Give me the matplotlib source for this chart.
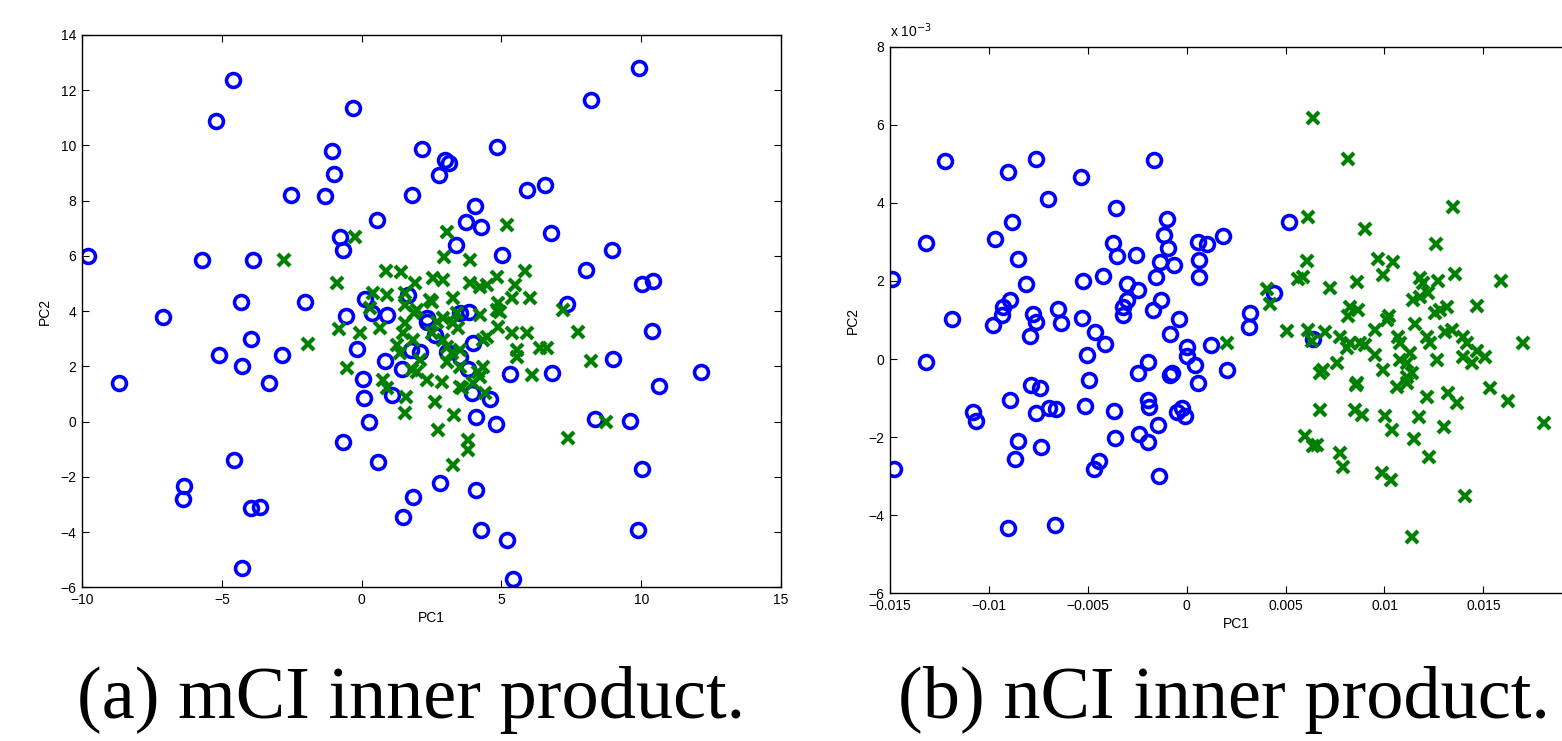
import numpy as np
import matplotlib
matplotlib.use("Agg")
import matplotlib.pyplot as plt
from matplotlib.ticker import FixedLocator, FuncFormatter

# ---------------- data: (a) mCI inner product ----------------
a_blue_x = [-9.8, -4.59, -5.2, -0.31, -1.05, -1.0, -2.54, -1.31, 0.55, -0.76, -0.67, -5.7, -3.87,
            -4.32, -2.04, -7.1, 1.8, 2.15, 0.12, -0.57, 0.36, 0.9, 1.67, 9.92, 8.19, 4.83, 2.99,
            3.14, 2.78, 5.9, 6.57, 4.07, 3.73, 4.28, 6.77, 3.37, 5.02, 8.94, 8.01, 10.03, 10.41,
            7.36, 3.52, 3.85, 2.33, -3.96, -5.09, -2.84, -4.29, -8.67, -3.32, -0.16, 0.84, 0.05,
            0.09, 1.1, 0.25, -0.68, 0.59, -4.56, -6.36, -6.4, -3.97, -3.62, -4.27, 1.83, 1.49,
            1.45, 1.77, 10.39, 9.0, 12.14, 10.65, 6.82, 5.31, 8.36, 9.61, 10.03, 9.9, 2.79, 4.09,
            4.26, 5.21, 5.42, 4.09, 4.8, 4.59, 3.96, 3.97, 3.82, 3.04, 2.09, 2.33, 2.63, 3.52]
a_blue_y = [6.0, 12.37, 10.9, 11.35, 9.79, 8.95, 8.21, 8.17, 7.29, 6.68, 6.22, 5.87, 5.87,
            4.32, 4.33, 3.8, 8.21, 9.87, 4.43, 3.84, 3.92, 3.87, 4.58, 12.82, 11.66, 9.95, 9.48,
            9.38, 8.93, 8.4, 8.56, 7.79, 7.23, 7.06, 6.82, 6.39, 6.04, 6.22, 5.49, 5.0, 5.08,
            4.27, 3.92, 3.97, 3.76, 2.99, 2.42, 2.42, 2.01, 1.39, 1.41, 2.62, 2.21, 1.53,
            0.86, 0.97, 0.0, -0.73, -1.48, -1.38, -2.33, -2.82, -3.14, -3.08, -5.3, -2.72, -3.45,
            1.9, 2.59, 3.28, 2.27, 1.8, 1.28, 1.75, 1.72, 0.1, 0.01, -1.73, -3.93, -2.23, -2.49,
            -3.93, -4.28, -5.69, 0.17, -0.1, 0.81, 1.05, 2.86, 1.89, 2.53, 2.53, 3.62, 3.14, 2.35]

a_green_x = [-2.76, -0.87, -0.23, 0.87, 1.41, 1.91, 0.42, 0.9, 1.55, 0.3, 1.55, 1.88,
             -1.91, -0.8, -0.06, -0.53, 0.66, 1.55, 1.26, 0.78, 0.9, 1.59, 1.55, 1.79,
             3.04, 2.96, 3.88, 5.19, 2.56, 2.92, 4.83, 5.84, 3.88, 4.23, 4.47, 5.48, 2.45, 3.28,
             4.89, 5.37, 6.02, 7.21, 4.95, 7.75, 8.19, 6.08, 8.73, 7.37, 6.38, 6.62, 5.9, 5.55,
             5.37, 5.55, 4.89, 4.35, 4.35, 4.23, 4.41, 3.82, 3.82, 3.26, 2.72, 3.3, 2.63, 3.58,
             2.86, 2.33, 1.37, 3.52, 3.04, 3.22, 2.92, 2.51, 1.85, 1.49, 2.69, 3.28, 2.92, 3.4,
             4.23, 4.83, 1.97, 4.17, 2.51, 2.09, 1.97, 4.47, 3.04, 3.52, 3.52, 4.0, 3.45]
a_green_y = [5.86, 5.03, 6.7, 5.47, 5.43, 5.01, 4.65, 4.59, 4.65, 4.1, 4.22, 3.92,
             2.8, 3.34, 3.2, 1.95, 3.38, 3.56, 2.78, 1.51, 1.21, 0.9, 0.3, 1.87,
             6.88, 5.97, 5.86, 7.12, 5.19, 5.13, 5.25, 5.47, 5.01, 4.89, 4.95, 4.95, 4.41, 4.47,
             4.31, 4.47, 4.47, 4.04, 3.98, 3.26, 2.2, 1.69, 0.0, -0.58, 2.66, 2.66, 3.2, 2.59,
             3.2, 2.35, 3.44, 2.96, 1.99, 1.63, 1.03, -0.67, -1.03, -1.57, -0.3, 0.24, 0.72, 1.21,
             1.45, 1.51, 2.47, 1.99, 2.17, 2.47, 2.96, 3.2, 2.96, 3.2, 3.62, 3.56, 3.74, 3.92,
             3.86, 4.04, 4.04, 1.81, 4.34, 2.23, 1.81, 3.08, 2.71, 2.59, 1.26, 1.39, 3.4]

# ---------------- data: (b) nCI inner product (PC2 in units of 1e-3) ----------------
b_blue_x = [-0.01489, -0.01222, -0.01317, -0.00902, -0.0076, -0.00701, -0.00883, -0.00969,
            -0.00851, -0.00534, -0.00167, -0.00357, -0.00373, -0.00352, -0.00256, -0.00101,
            -0.00115, -0.00096, -0.00135, -0.00066, -0.00157, -0.00425, -0.00523, -0.00812,
            -0.00303, -0.00245, -0.00893, -0.0093, -0.00131, -0.00172, -0.00649, -0.00303,
            -0.00321, -0.00324, 0.00059, 0.00101, 0.00182, 0.00062, 0.00062, -0.01185, -0.00776,
            -0.00531, -0.00037, -0.01318, -0.00978, -0.00935, -0.00762, -0.00792, -0.00637,
            -0.00464, -0.00413, -0.00506, -0.00492, -0.00084, 0.00003, 0.0, 0.00042, 0.00059,
            -0.00194, -0.00245, -0.00084, -0.00073, -0.00789, -0.00742, -0.00893, -0.00764,
            -0.00695, -0.00661, -0.00514, -0.00368, -0.00194, -0.00189, -0.00051, -0.00025,
            -0.00008, -0.01079, -0.01065, -0.00851, -0.00868, -0.00737, -0.00363, -0.0024,
            -0.00194, -0.00144, -0.00442, -0.00467, -0.00139, -0.0148, -0.00902, -0.00664,
            0.00121, 0.00205, 0.0032, 0.00313, 0.00519, 0.00441, 0.0064]
b_blue_y = [2.06, 5.06, 2.97, 4.78, 5.12, 4.11, 3.52, 3.08,
            2.56, 4.65, 5.1, 3.88, 2.96, 2.63, 2.67, 3.59,
            3.18, 2.84, 2.48, 2.41, 2.09, 2.12, 1.99, 1.92,
            1.93, 1.77, 1.51, 1.33, 1.51, 1.26, 1.29, 1.51,
            1.34, 1.13, 3.0, 2.95, 3.15, 2.54, 2.11, 1.03, 1.15,
            1.04, 1.03, -0.07, 0.87, 1.13, 0.96, 0.59, 0.93,
            0.68, 0.38, 0.1, -0.54, 0.64, 0.3, 0.08, -0.15, -0.62,
            -0.07, -0.36, -0.41, -0.35, -0.66, -0.75, -1.06, -1.39,
            -1.26, -1.29, -1.2, -1.32, -1.05, -1.22, -1.35, -1.26,
            -1.47, -1.35, -1.58, -2.1, -2.56, -2.26, -2.03, -1.93,
            -2.12, -1.69, -2.6, -2.82, -2.99, -2.82, -4.32, -4.25,
            0.36, -0.28, 1.17, 0.83, 3.5, 1.7, 0.51]

b_green_x = [0.00637, 0.00814, 0.01346, 0.00612, 0.009, 0.01262, 0.00607, 0.00969, 0.01045,
             0.00564, 0.0059, 0.00725, 0.0086, 0.00994, 0.0118, 0.01196, 0.01272, 0.01358,
             0.01589, 0.00404, 0.00421, 0.00826, 0.00868, 0.01146, 0.0118, 0.01222, 0.01281,
             0.01315, 0.01466, 0.01024, 0.01256, 0.00506, 0.00615, 0.00699, 0.00775, 0.00817,
             0.00826, 0.00876, 0.00691, 0.00674, 0.00758, 0.00809, 0.00901, 0.00952, 0.01011,
             0.00952, 0.00994, 0.0107, 0.01078, 0.01154, 0.01129, 0.01112, 0.01138, 0.01062,
             0.01112, 0.01213, 0.0123, 0.01264, 0.01306, 0.0134, 0.01399, 0.01416, 0.01399,
             0.01508, 0.01534, 0.01323, 0.01365, 0.01213, 0.0086, 0.00674, 0.00202, 0.00632,
             0.01702, 0.01808, 0.01623, 0.01303, 0.01176, 0.01151, 0.01227, 0.01037, 0.01003,
             0.00885, 0.00851, 0.00856, 0.00598, 0.0064, 0.00657, 0.00775, 0.00792, 0.00986,
             0.01031, 0.01407, 0.01141, 0.01079, 0.01112, 0.01466, 0.01442]
b_green_y = [6.18, 5.12, 3.9, 3.63, 3.32, 2.94, 2.52, 2.57, 2.49,
             2.04, 2.11, 1.83, 1.97, 2.15, 2.07, 1.94, 2.01, 2.17,
             2.0, 1.79, 1.41, 1.34, 1.26, 1.51, 1.6, 1.68, 1.26,
             1.34, 1.36, 1.1, 1.17, 0.73, 0.74, 0.7, 0.57, 1.09,
             0.4, 0.4, -0.28, -0.37, -0.11, 0.28, 0.36, 0.75, 1.0,
             0.1, -0.28, 0.57, 0.4, 0.91, 0.15, -0.11, -0.37, -0.71,
             -0.62, 0.57, 0.4, -0.02, 0.7, 0.75, 0.57, 0.4, 0.06,
             0.06, -0.75, -0.88, -1.13, -0.96, -0.62, -1.3, 0.42, 0.45,
             0.4, -1.63, -1.07, -1.75, -1.49, -2.05, -2.52, -1.83, -1.46,
             -1.43, -1.3, -0.66, -1.97, -2.24, -2.2, -2.41, -2.76, -2.93,
             -3.11, -3.52, -4.55, -0.03, -0.45, 0.2, -0.1]

a_xticks = [-10, -5, 0, 5, 10, 15]
a_yticks = [-6, -4, -2, 0, 2, 4, 6, 8, 10, 12, 14]
b_xticks = [-0.015, -0.01, -0.005, 0, 0.005, 0.01, 0.015]
b_yticks = [-6, -4, -2, 0, 2, 4, 6, 8]

captions = ["(a) mCI inner product.", "(b) nCI inner product."]

# ---------------- styling ----------------
plt.rcParams['font.family'] = ['Liberation Sans', 'DejaVu Sans']
BLUE = (0, 0, 1)
GREEN = (0, 0.5, 0)
TICKFS = 10


def fmt(v, pos=None):
    s = f"{np.round(v, 6):g}"
    return s.replace('-', '\u2212')


def style_axes(ax, xticks, yticks):
    ax.xaxis.set_major_locator(FixedLocator(xticks))
    ax.yaxis.set_major_locator(FixedLocator(yticks))
    ax.xaxis.set_major_formatter(FuncFormatter(fmt))
    ax.yaxis.set_major_formatter(FuncFormatter(fmt))
    ax.tick_params(direction='in', length=5, width=0.8, top=True, right=True,
                   labelsize=TICKFS, colors='black', pad=4)
    for s in ax.spines.values():
        s.set_linewidth(1.0)
        s.set_color('black')
    ax.set_xlabel('PC1', fontsize=TICKFS, labelpad=3)
    ax.set_ylabel('PC2', fontsize=TICKFS, labelpad=6)


fig = plt.figure(figsize=(15.62, 7.41), dpi=100)

ax1 = fig.add_axes([82 / 1562, 1 - 587.3 / 741, 699 / 1562, 552.3 / 741])
ax1.plot(a_blue_x, a_blue_y, linestyle='none', marker='o', markersize=10,
         markerfacecolor='none', markeredgecolor=BLUE, markeredgewidth=2.6)
ax1.plot(a_green_x, a_green_y, linestyle='none', marker='x', markersize=8.5,
         markeredgecolor=GREEN, markeredgewidth=3.0)
ax1.set_xlim(-10, 15)
ax1.set_ylim(-6, 14)
style_axes(ax1, a_xticks, a_yticks)

ax2 = fig.add_axes([890 / 1562, 1 - 593.3 / 741, 692.3 / 1562, 546.6 / 741])
ax2.plot(b_blue_x, b_blue_y, linestyle='none', marker='o', markersize=10,
         markerfacecolor='none', markeredgecolor=BLUE, markeredgewidth=2.6)
ax2.plot(b_green_x, b_green_y, linestyle='none', marker='x', markersize=8.5,
         markeredgecolor=GREEN, markeredgewidth=3.0)
ax2.set_xlim(-0.015, 0.02)
ax2.set_ylim(-6, 8)
style_axes(ax2, b_xticks, b_yticks)
ax2.text(0.0, 1.012, r'x 10$^{-3}$', transform=ax2.transAxes, ha='left', va='bottom',
         fontsize=TICKFS)

fig.text(411.5 / 1562, 1 - 700 / 741, captions[0], ha='center', va='center',
         fontsize=53.5, family=['Liberation Serif', 'DejaVu Serif'])
fig.text(1224 / 1562, 1 - 700 / 741, captions[1], ha='center', va='center',
         fontsize=53.5, family=['Liberation Serif', 'DejaVu Serif'])

fig.savefig('out.png', dpi=100)
